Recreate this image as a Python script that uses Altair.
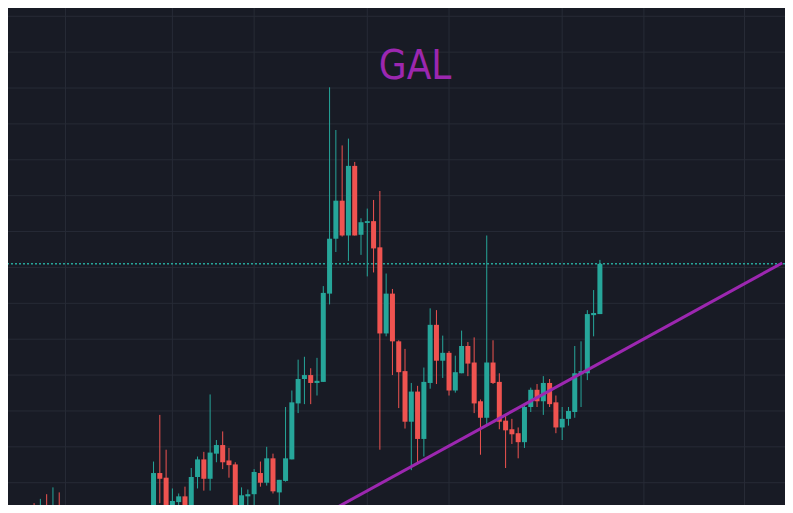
import altair as alt
import pandas as pd

# ---- data (price units, candle index) ----
idx = [0, 1, 2, 3, 4] + list(range(19, 91))

opens = [0.935, 0.914, 0.935, 0.914, 0.933,
         0.919, 1.027, 1.014, 0.924, 0.946, 0.962, 0.924, 1.016, 1.065, 1.011,
         1.081, 1.105, 1.062, 1.051, 0.924, 0.962, 0.968, 1.027, 1.000, 1.068,
         0.973, 1.005, 1.065, 1.221, 1.289, 1.300, 1.278, 1.281, 1.527, 1.680,
         1.786, 1.689, 1.883, 1.691, 1.724, 1.729, 1.656, 1.416, 1.527, 1.394,
         1.311, 1.170, 1.254, 1.122, 1.278, 1.440, 1.340, 1.362, 1.257, 1.305,
         1.381, 1.335, 1.227, 1.181, 1.335, 1.281, 1.173, 1.149, 1.138, 1.113,
         1.211, 1.259, 1.227, 1.278, 1.224, 1.154, 1.178, 1.197, 1.302, 1.305,
         1.467, 1.470]
highs = [0.943, 0.955, 0.968, 0.987, 0.973,
         1.059, 1.189, 1.092, 0.984, 0.970, 0.989, 1.041, 1.073, 1.086, 1.246,
         1.119, 1.143, 1.097, 1.057, 0.987, 0.981, 1.038, 1.059, 1.100, 1.081,
         1.008, 1.211, 1.257, 1.343, 1.351, 1.319, 1.348, 1.548, 2.102, 1.983,
         1.940, 1.959, 1.894, 1.737, 1.764, 1.788, 1.813, 1.583, 1.540, 1.397,
         1.373, 1.278, 1.270, 1.321, 1.486, 1.481, 1.410, 1.367, 1.354, 1.424,
         1.392, 1.405, 1.232, 1.689, 1.397, 1.305, 1.189, 1.178, 1.154, 1.216,
         1.265, 1.275, 1.297, 1.289, 1.243, 1.211, 1.211, 1.381, 1.394, 1.481,
         1.537, 1.621]
lows = [0.908, 0.906, 0.903, 0.903, 0.897,
        0.906, 0.943, 0.906, 0.914, 0.930, 0.914, 0.919, 0.984, 0.978, 0.978,
        1.057, 1.038, 1.014, 0.914, 0.914, 0.924, 0.933, 0.989, 0.992, 0.970,
        0.930, 1.003, 1.065, 1.194, 1.219, 1.219, 1.243, 1.281, 1.497, 1.643,
        1.686, 1.618, 1.689, 1.635, 1.575, 1.586, 1.092, 1.408, 1.300, 1.208,
        1.151, 1.035, 1.051, 1.073, 1.262, 1.275, 1.292, 1.243, 1.251, 1.305,
        1.297, 1.194, 1.078, 1.162, 1.275, 1.149, 1.041, 1.108, 1.068, 1.097,
        1.197, 1.211, 1.189, 1.211, 1.138, 1.119, 1.159, 1.181, 1.211, 1.286,
        1.408, 1.470]
closes = [0.919, 0.933, 0.919, 0.935, 0.914,
          1.027, 1.011, 0.919, 0.949, 0.962, 0.924, 1.016, 1.065, 1.011, 1.084,
          1.105, 1.057, 1.049, 0.924, 0.965, 0.968, 1.030, 1.000, 1.068, 0.976,
          1.008, 1.068, 1.224, 1.289, 1.300, 1.278, 1.284, 1.529, 1.680, 1.786,
          1.689, 1.883, 1.689, 1.726, 1.729, 1.653, 1.416, 1.527, 1.394, 1.308,
          1.170, 1.254, 1.122, 1.281, 1.440, 1.340, 1.362, 1.257, 1.308, 1.381,
          1.332, 1.221, 1.181, 1.335, 1.278, 1.170, 1.146, 1.135, 1.113, 1.211,
          1.259, 1.227, 1.278, 1.219, 1.154, 1.178, 1.200, 1.305, 1.311, 1.470,
          1.473, 1.610]

last_price = [1.610]
trend_idx = [48, 119]
trend_price = [0.9295, 1.6124]
grid_x = [5, 22, 35, 53, 66, 84, 97, 113]
grid_y = [1.0, 1.1, 1.2, 1.3, 1.4, 1.5, 1.6, 1.7, 1.8, 1.9, 2.0, 2.1, 2.2, 2.3]
title_text = ["GAL"]

# ---- styling ----
BG = "#181b25"
GRID = "#272b36"
UP = "#26a69a"
DOWN = "#ef5350"
PURPLE = "#9c27b0"

W, H = 777, 497
x_dom = [-3.354, 118.646]
y_dom = [0.9379, 2.323]

df = pd.DataFrame({"idx": idx, "open": opens, "high": highs,
                   "low": lows, "close": closes})
df["dir"] = ["up" if c >= o else "down" for o, c in zip(opens, closes)]

xs = alt.Scale(domain=x_dom, nice=False, zero=False)
ys = alt.Scale(domain=y_dom, nice=False, zero=False)
col = alt.Color("dir:N", scale=alt.Scale(domain=["up", "down"], range=[UP, DOWN]), legend=None)

vgrid = alt.Chart(pd.DataFrame({"gx": grid_x})).mark_rule(color=GRID, strokeWidth=1).encode(
    x=alt.X("gx:Q", scale=xs, axis=None))
hgrid = alt.Chart(pd.DataFrame({"gy": grid_y})).mark_rule(color=GRID, strokeWidth=1).encode(
    y=alt.Y("gy:Q", scale=ys, axis=None))

wicks = alt.Chart(df).mark_rule(strokeWidth=1, clip=True).encode(
    x=alt.X("idx:Q", scale=xs, axis=None),
    y=alt.Y("low:Q", scale=ys, axis=None),
    y2="high:Q",
    color=col)

bodies = alt.Chart(df).mark_bar(width=5, clip=True, strokeWidth=0).encode(
    x=alt.X("idx:Q", scale=xs, axis=None),
    y=alt.Y("open:Q", scale=ys, axis=None),
    y2="close:Q",
    color=col)

price_line = alt.Chart(pd.DataFrame({"p": last_price})).mark_rule(
    color=UP, strokeWidth=1.5, strokeDash=[2, 2]).encode(
    y=alt.Y("p:Q", scale=ys, axis=None))

trend = alt.Chart(pd.DataFrame({"t": trend_idx, "v": trend_price})).mark_line(
    color=PURPLE, strokeWidth=3, clip=True).encode(
    x=alt.X("t:Q", scale=xs, axis=None),
    y=alt.Y("v:Q", scale=ys, axis=None))

title = alt.Chart(pd.DataFrame({"label": title_text})).mark_text(
    font="DejaVu Sans Condensed, Roboto, sans-serif", fontSize=40, color=PURPLE,
    align="center", baseline="alphabetic").encode(
    x=alt.value(407), y=alt.value(71), text="label:N")

chart = alt.layer(vgrid, hgrid, price_line, wicks, bodies, trend, title).properties(
    width=W, height=H, padding=0, background=BG,
    autosize=alt.AutoSizeParams(type="none"),
).configure_view(stroke=None)

chart.save("out.html", embed_options={"renderer": "svg", "actions": False})
